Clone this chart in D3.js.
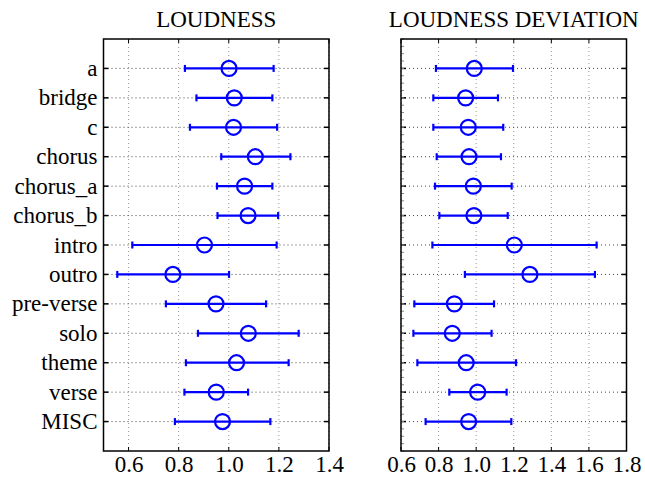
<!DOCTYPE html>
<html>
<head>
<meta charset="utf-8">
<script src="https://cdn.jsdelivr.net/npm/d3@7"></script>
<style>
  body { margin: 0; background: #fff; }
  text { font-family: "Liberation Serif", "Times New Roman", serif; fill: #000; }
</style>
</head>
<body>
<svg id="chart" width="645" height="477"></svg>
<script>
var categories = ["a", "bridge", "c", "chorus", "chorus_a", "chorus_b", "intro", "outro",
                  "pre-verse", "solo", "theme", "verse", "MISC"];

// loudness: mean, low, high
var loudMean = [1.001, 1.022, 1.019, 1.106, 1.063, 1.077, 0.903, 0.777, 0.949, 1.078, 1.031, 0.950, 0.975];
var loudLow  = [0.825, 0.871, 0.845, 0.970, 0.953, 0.955, 0.615, 0.555, 0.749, 0.877, 0.829, 0.823, 0.785];
var loudHigh = [1.179, 1.174, 1.193, 1.246, 1.174, 1.197, 1.191, 1.001, 1.149, 1.279, 1.239, 1.077, 1.166];

// loudness deviation: mean, low, high
var devMean = [0.990, 0.944, 0.958, 0.962, 0.985, 0.988, 1.203, 1.286, 0.884, 0.873, 0.947, 1.008, 0.960];
var devLow  = [0.786, 0.772, 0.772, 0.790, 0.781, 0.804, 0.767, 0.940, 0.671, 0.666, 0.687, 0.857, 0.731];
var devHigh = [1.196, 1.116, 1.144, 1.132, 1.189, 1.168, 1.641, 1.632, 1.095, 1.082, 1.212, 1.162, 1.187];

var loudTicks = [0.6, 0.8, 1.0, 1.2, 1.4];
var devTicks = [0.6, 0.8, 1.0, 1.2, 1.4, 1.6, 1.8];

var svg = d3.select("#chart");
var plotTop = 39, plotBottom = 451;
var fontSize = 23;

var y = d3.scalePoint().domain(categories).range([plotTop, plotBottom]).padding(1);

function panel(opt) {
  var x = d3.scaleLinear().domain(opt.domain).range([opt.left, opt.right]);
  var g = svg.append("g");

  // vertical grid
  g.selectAll(".vgrid").data(opt.ticks).enter().append("line")
    .attr("x1", d => x(d)).attr("x2", d => x(d))
    .attr("y1", plotTop).attr("y2", plotBottom)
    .attr("stroke", "#999").attr("stroke-width", 1).attr("stroke-dasharray", "1,3");
  // horizontal grid
  g.selectAll(".hgrid").data(categories).enter().append("line")
    .attr("x1", opt.left).attr("x2", opt.right)
    .attr("y1", d => y(d)).attr("y2", d => y(d))
    .attr("stroke", "#444").attr("stroke-width", 1).attr("stroke-dasharray", "1,3");

  // bottom axis labels
  var xAxis = d3.axisBottom(x).tickValues(opt.ticks).tickSize(0).tickPadding(5)
    .tickFormat(d3.format(".1f"));
  var ax = g.append("g").attr("transform", "translate(0," + plotBottom + ")").call(xAxis);
  ax.select(".domain").remove();
  ax.selectAll("text").attr("font-size", fontSize).attr("font-family", "Liberation Serif, serif");

  // inner tick marks top and bottom
  g.selectAll(".tb").data(opt.ticks).enter().append("line")
    .attr("x1", d => x(d)).attr("x2", d => x(d)).attr("y1", plotBottom).attr("y2", plotBottom - 4)
    .attr("stroke", "#000");
  g.selectAll(".tt").data(opt.ticks).enter().append("line")
    .attr("x1", d => x(d)).attr("x2", d => x(d)).attr("y1", plotTop).attr("y2", plotTop + 4)
    .attr("stroke", "#000");

  // y ticks left/right
  g.selectAll(".yl").data(categories).enter().append("line")
    .attr("x1", opt.left).attr("x2", opt.left + 5).attr("y1", d => y(d)).attr("y2", d => y(d))
    .attr("stroke", "#000").attr("stroke-width", 1.5);
  g.selectAll(".yr").data(categories).enter().append("line")
    .attr("x1", opt.right).attr("x2", opt.right - 5).attr("y1", d => y(d)).attr("y2", d => y(d))
    .attr("stroke", "#000").attr("stroke-width", 1.5);

  if (opt.labels) {
    g.selectAll(".ylab").data(categories).enter().append("text")
      .attr("x", opt.left - 6).attr("y", d => y(d)).attr("dy", "0.33em")
      .attr("text-anchor", "end").attr("font-size", fontSize).text(d => d);
  } else {
    // minor ticks on the left edge
    var step = y.step();
    var minor = d3.range(0, 4 * 14 + 1).map(i => plotTop + i * step / 4);
    g.selectAll(".ym").data(minor).enter().append("line")
      .attr("x1", opt.left).attr("x2", opt.left + 3).attr("y1", d => d).attr("y2", d => d)
      .attr("stroke", "#888").attr("stroke-width", 1);
  }

  // frame
  g.append("rect").attr("x", opt.left).attr("y", plotTop)
    .attr("width", opt.right - opt.left).attr("height", plotBottom - plotTop)
    .attr("fill", "none").attr("stroke", "#000").attr("stroke-width", 1.5);

  // title
  g.append("text").attr("x", (opt.left + opt.right) / 2).attr("y", 27)
    .attr("text-anchor", "middle").attr("font-size", fontSize).text(opt.title);

  // error bars
  var rows = categories.map((c, i) => ({ c: c, m: opt.mean[i], lo: opt.low[i], hi: opt.high[i] }));
  var eb = g.selectAll(".eb").data(rows).enter().append("g").attr("stroke", "#0000ff").attr("fill", "none");
  eb.append("line").attr("x1", d => x(d.lo)).attr("x2", d => x(d.hi))
    .attr("y1", d => y(d.c)).attr("y2", d => y(d.c)).attr("stroke-width", 2.2);
  eb.append("line").attr("x1", d => x(d.lo)).attr("x2", d => x(d.lo))
    .attr("y1", d => y(d.c) - 3.5).attr("y2", d => y(d.c) + 3.5).attr("stroke-width", 2.2);
  eb.append("line").attr("x1", d => x(d.hi)).attr("x2", d => x(d.hi))
    .attr("y1", d => y(d.c) - 3.5).attr("y2", d => y(d.c) + 3.5).attr("stroke-width", 2.2);
  eb.append("circle").attr("cx", d => x(d.m)).attr("cy", d => y(d.c)).attr("r", 7.5)
    .attr("stroke-width", 2.2).attr("fill", "none");
}

panel({ left: 103.5, right: 329, domain: [0.5, 1.4], ticks: loudTicks, labels: true,
        title: "LOUDNESS", mean: loudMean, low: loudLow, high: loudHigh });
panel({ left: 401, right: 626.5, domain: [0.6, 1.8], ticks: devTicks, labels: false,
        title: "LOUDNESS DEVIATION", mean: devMean, low: devLow, high: devHigh });
</script>
</body>
</html>
